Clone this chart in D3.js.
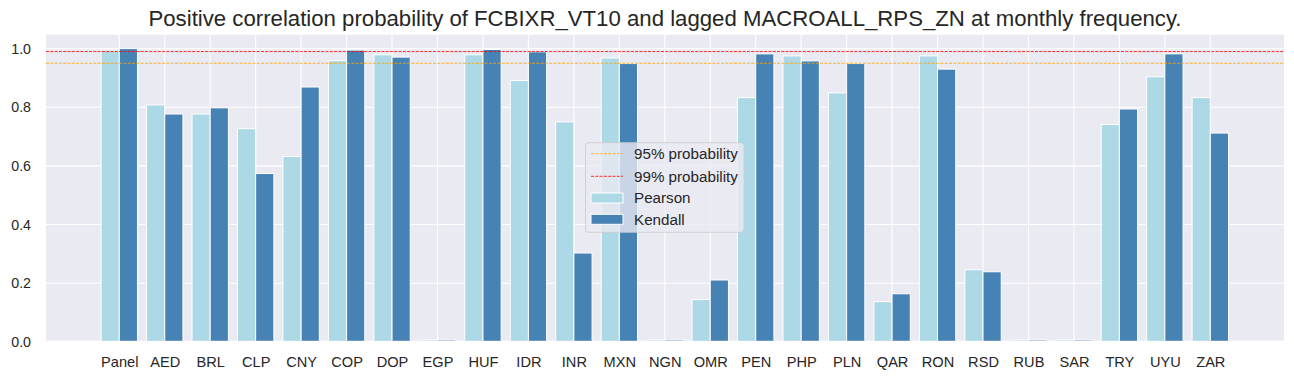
<!DOCTYPE html>
<html>
<head>
<meta charset="utf-8">
<script src="https://cdn.jsdelivr.net/npm/d3@7/dist/d3.min.js"></script>
<style>
  html, body { margin: 0; padding: 0; background: #ffffff; }
  svg { display: block; font-family: "Liberation Sans", Arial, sans-serif; }
</style>
</head>
<body>
<svg id="chart" width="1294" height="379"></svg>
<script>
const categories = ["Panel","AED","BRL","CLP","CNY","COP","DOP","EGP","HUF","IDR","INR","MXN","NGN","OMR","PEN","PHP","PLN","QAR","RON","RSD","RUB","SAR","TRY","UYU","ZAR"];
const pearson = [0.995,0.808,0.777,0.727,0.632,0.959,0.979,0.006,0.979,0.891,0.750,0.968,0.006,0.144,0.833,0.975,0.849,0.137,0.975,0.246,0.006,0.006,0.741,0.904,0.833];
const kendall = [1.000,0.777,0.798,0.574,0.869,0.995,0.971,0.006,0.997,0.989,0.303,0.949,0.006,0.211,0.982,0.958,0.949,0.164,0.930,0.239,0.006,0.006,0.794,0.982,0.712];
const yTicks = [0, 0.2, 0.4, 0.6, 0.8, 1.0];
const thresholds = [
  {label: "95% probability", value: 0.95, color: "#FFA500"},
  {label: "99% probability", value: 0.99, color: "#FF0000"}
];
const seriesNames = ["Pearson", "Kendall"];
const seriesColors = ["#ADD8E6", "#4682B4"];
const title = "Positive correlation probability of FCBIXR_VT10 and lagged MACROALL_RPS_ZN at monthly frequency.";

(function () {
const svg = d3.select("#chart");
const pL = 46, pR = 1284, pT = 34.7, pB = 340.7;
const textColor = "#262626";

const x = d3.scaleLinear().domain([-1.612, categories.length - 1 + 1.621]).range([pL, pR]);
const y = d3.scaleLinear().domain([0.004, 1.0474]).range([pB, pT]);
const barW = 0.4;

svg.append("defs").append("clipPath").attr("id", "clip")
  .append("rect").attr("x", pL).attr("y", pT).attr("width", pR - pL).attr("height", pB - pT);

svg.append("rect").attr("x", pL).attr("y", pT).attr("width", pR - pL).attr("height", pB - pT)
  .attr("fill", "#EAEAF2");

const plot = svg.append("g").attr("clip-path", "url(#clip)");

plot.selectAll("line.hgrid").data(yTicks).enter().append("line")
  .attr("x1", pL).attr("x2", pR)
  .attr("y1", d => y(d)).attr("y2", d => y(d))
  .attr("stroke", "#ffffff").attr("stroke-width", 1.1);
plot.selectAll("line.vgrid").data(categories).enter().append("line")
  .attr("x1", (d, i) => x(i)).attr("x2", (d, i) => x(i))
  .attr("y1", pT).attr("y2", pB)
  .attr("stroke", "#ffffff").attr("stroke-width", 1.1);

[pearson, kendall].forEach((vals, s) => {
  plot.selectAll("rect.s" + s).data(vals).enter().append("rect")
    .attr("class", "s" + s)
    .attr("x", (d, i) => x(i + (s === 0 ? -barW : 0)))
    .attr("width", x(barW) - x(0))
    .attr("y", d => y(d))
    .attr("height", d => Math.max(0, y(0) - y(d)))
    .attr("fill", seriesColors[s])
    .attr("stroke", "#ffffff").attr("stroke-width", 1);
});

plot.selectAll("line.thr").data(thresholds).enter().append("line")
  .attr("x1", pL).attr("x2", pR)
  .attr("y1", d => y(d.value)).attr("y2", d => y(d.value))
  .attr("stroke", d => d.color).attr("stroke-width", 0.8)
  .attr("stroke-dasharray", "3,1.3");

const yAxis = d3.axisLeft(y).tickValues(yTicks).tickFormat(d3.format(".1f")).tickSize(0).tickPadding(15);
const ya = svg.append("g").attr("transform", `translate(${pL},0)`).call(yAxis);
ya.select(".domain").remove();
ya.selectAll("text").attr("font-size", "14.2px").attr("fill", textColor)
  .attr("font-family", "Liberation Sans, Arial, sans-serif");

const xAxis = d3.axisBottom(x).tickValues(d3.range(categories.length)).tickFormat(i => categories[i]).tickSize(0).tickPadding(15.5);
const xa = svg.append("g").attr("transform", `translate(0,${pB})`).call(xAxis);
xa.select(".domain").remove();
xa.selectAll("text").attr("font-size", "14.6px").attr("fill", textColor)
  .attr("font-family", "Liberation Sans, Arial, sans-serif");

svg.append("text").attr("x", (pL + pR) / 2).attr("y", 26)
  .attr("text-anchor", "middle").attr("font-size", "22.2px").attr("fill", textColor)
  .text(title);

const lg = svg.append("g");
lg.append("rect").attr("x", 585.5).attr("y", 142.7).attr("width", 158.5).attr("height", 89.6)
  .attr("rx", 3).attr("fill", "#EAEAF2").attr("fill-opacity", 0.8)
  .attr("stroke", "#CCCCCC").attr("stroke-opacity", 0.8).attr("stroke-width", 1);
const rowsY = [153.7, 176.3, 198, 219.3];
thresholds.forEach((t, i) => {
  lg.append("line").attr("x1", 591).attr("x2", 623).attr("y1", rowsY[i]).attr("y2", rowsY[i])
    .attr("stroke", t.color).attr("stroke-width", 0.8).attr("stroke-dasharray", "3,1.3");
  lg.append("text").attr("x", 634).attr("y", rowsY[i]).attr("dy", "0.35em")
    .attr("font-size", "15.2px").attr("fill", textColor).text(t.label);
});
seriesNames.forEach((n, i) => {
  const yy = rowsY[i + 2];
  lg.append("rect").attr("x", 591).attr("y", yy - 5).attr("width", 32).attr("height", 10)
    .attr("fill", seriesColors[i]).attr("stroke", "#ffffff").attr("stroke-width", 1);
  lg.append("text").attr("x", 634).attr("y", yy).attr("dy", "0.35em")
    .attr("font-size", "15.2px").attr("fill", textColor).text(n);
});
})();
</script>
</body>
</html>
